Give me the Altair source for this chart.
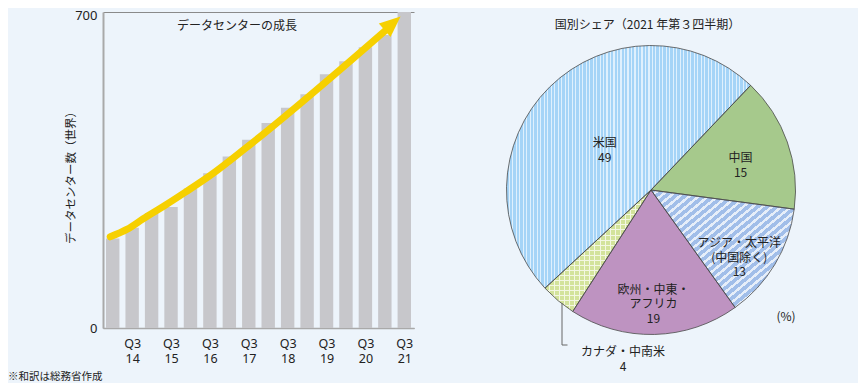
import json
import math
import altair as alt
import pandas as pd

# ---------------- data: number of data centers (world) ----------------
quarters = ["Q1 14", "Q3 14", "Q1 15", "Q3 15", "Q1 16", "Q3 16", "Q1 17", "Q3 17",
            "Q1 18", "Q3 18", "Q1 19", "Q3 19", "Q1 20", "Q3 20", "Q1 21", "Q3 21"]
dc_counts = [198, 222, 255, 268, 309, 343, 380, 417, 454, 488, 518, 562, 591, 622, 649, 700]

# growth arrow (trend): quarter index position, value
arrow_pos = [-0.13, 0.75, 1.57, 2.7, 3.74, 5.02, 6.83, 14.19]
arrow_val = [202, 219, 242, 272, 301, 338, 398, 665]
arrow_tip_pos = [14.4]
arrow_tip_val = [675]

# ---------------- data: share by region (2021 Q3) ----------------
regions = ["中国", "アジア・太平洋(中国除く)", "欧州・中東・アフリカ", "カナダ・中南米", "米国"]
region_labels = ["中国", "アジア・太平洋\n(中国除く)", "欧州・中東・\nアフリカ", "カナダ・中南米", "米国"]
shares = [15, 13, 19, 4, 49]

bar_title = "データセンターの成長"
y_title = "データセンター数（世界）"
pie_title = "国別シェア（2021 年第３四半期）"
unit_label = "(%)"
footnote = "※和訳は総務省作成"

# ---------------- styles ----------------
FONT = "Noto Sans CJK JP"
NUMFONT = "Noto Sans"
BG = "#edf4fb"
TXT = "#222222"
BAR = "#c7c7cb"
YELLOW = "#f6d000"
W, H = 311, 316
CX, CY, R = 548, 178, 144.5
START = math.radians(43.6)

bar_df = pd.DataFrame({"idx": list(range(len(quarters))), "quarter": quarters, "count": dc_counts})
arrow_df = pd.DataFrame({"pos": arrow_pos, "val": arrow_val})
tip_df = pd.DataFrame({"pos": arrow_tip_pos, "val": arrow_tip_val})

t1 = []
acc = 0
for s in shares:
    acc += s
    t1.append(acc)
t0 = [a - s for a, s in zip(t1, shares)]
label_r = {"中国": 95, "アジア・太平洋(中国除く)": 103, "欧州・中東・アフリカ": 100, "カナダ・中南米": 0, "米国": 66}
pie_df = pd.DataFrame({
    "region": regions,
    "label": region_labels,
    "share": shares,
    "t0": t0,
    "t1": t1,
})
pie_df["mid"] = (pie_df["t0"] + pie_df["t1"]) / 2
pie_df["r"] = pie_df["region"].map(label_r)
pie_df["text"] = pie_df["label"] + "\n" + pie_df["share"].astype(str)

xs = alt.Scale(domain=[-0.5, 15.5], nice=False, zero=False)
ys = alt.Scale(domain=[0, 700], nice=False)
ts = alt.Scale(domain=[0, 100], range=[START, START + 2 * math.pi])

label_expr = "split(" + json.dumps(quarters, ensure_ascii=False) + "[datum.value], ' ')"

x_axis = alt.Axis(values=list(range(1, 16, 2)), labelExpr=label_expr, title=None,
                  ticks=False, tickSize=0, grid=False, domainColor="#a9a9a9", domainWidth=1.5,
                  labelFont=NUMFONT, labelFontSize=12.5, labelColor=TXT, labelPadding=9,
                  labelLineHeight=15, labelFlush=False, labelOverlap=False)
y_axis = alt.Axis(values=[0, 700], title=y_title, titleX=-32, titleY=162.5, titleAngle=270,
                  titleAlign="center", titleBaseline="middle", titleFontSize=11.5,
                  titleFontWeight="normal", titleColor=TXT,
                  grid=True, gridColor="#8a8a8a", gridWidth=1, ticks=False, tickSize=0,
                  domainColor="#a9a9a9", domainWidth=2, labelFont=NUMFONT, labelFontSize=13,
                  labelPadding=6, labelColor=TXT,
                  labelOffset={"condition": {"test": "datum.value == 700", "value": 3}, "value": 0})

bars = alt.Chart(bar_df).transform_calculate(
    x0="datum.idx - 0.345", x1="datum.idx + 0.345"
).mark_rect(color=BAR).encode(
    x=alt.X("x0:Q", scale=xs, axis=x_axis),
    x2="x1:Q",
    y=alt.Y("count:Q", scale=ys, axis=y_axis),
    y2=alt.datum(0),
)

arrow = alt.Chart(arrow_df).mark_line(color=YELLOW, strokeWidth=7, strokeCap="round",
                                      interpolate="monotone").encode(
    x=alt.X("pos:Q", scale=xs, axis=x_axis),
    y=alt.Y("val:Q", scale=ys, axis=y_axis),
    order="pos:Q",
)

tip = alt.Chart(tip_df).mark_point(shape="M0,-1L0.85,1L-0.85,1Z", filled=True, size=441,
                                   angle=49, color=YELLOW, opacity=1, strokeWidth=0).encode(
    x=alt.X("pos:Q", scale=xs, axis=x_axis),
    y=alt.Y("val:Q", scale=ys, axis=y_axis),
)


def text_layer(s, x, y, size=12, align="center"):
    return alt.Chart(pd.DataFrame({"t": [s]})).mark_text(
        fontSize=size, color=TXT, align=align, baseline="middle", font=FONT
    ).encode(x=alt.value(x), y=alt.value(y), text="t:N")


def stripe_gradient(ca, cb, n, frac_b, x2, y2):
    stops = []
    for k in range(n):
        a0 = round(k / n, 5)
        b0 = round((k + 1 - frac_b) / n, 5)
        e = round((k + 1) / n, 5)
        stops += [alt.GradientStop(offset=a0, color=ca), alt.GradientStop(offset=b0, color=ca),
                  alt.GradientStop(offset=b0, color=cb), alt.GradientStop(offset=e, color=cb)]
    return alt.LinearGradient(gradient="linear", stops=stops, x1=0, y1=0, x2=x2, y2=y2)


def slice_layer(name, fill):
    return alt.Chart(pie_df).transform_filter(alt.datum.region == name).mark_arc(
        radius=R, fill=fill, strokeWidth=0
    ).encode(
        theta=alt.Theta("t0:Q", scale=ts, stack=False),
        theta2="t1:Q",
        x=alt.value(CX), y=alt.value(CY),
    )


fills = {
    "中国": "#a6c98c",
    "アジア・太平洋(中国除く)": stripe_gradient("#a1bee9", "#e6eef9", 30, 0.4, 1, 1),
    "欧州・中東・アフリカ": "#be93c1",
    "カナダ・中南米": stripe_gradient("#d3e39b", "#f3f7e2", 21, 0.2, 1, 0),
    "米国": stripe_gradient("#a5d4f7", "#dff0fd", 70, 0.33, 1, 0),
}
slices = [slice_layer(n, fills[n]) for n in regions]
canada_h = slice_layer("カナダ・中南米",
                       stripe_gradient("rgba(255,255,255,0)", "rgba(243,247,226,1)", 24, 0.2, 0, 1))

outline = alt.Chart(pie_df).mark_arc(radius=R, fill="white", fillOpacity=0,
                                     stroke="#4a4a4a", strokeWidth=0.8).encode(
    theta=alt.Theta("t0:Q", scale=ts, stack=False),
    theta2="t1:Q",
    x=alt.value(CX), y=alt.value(CY),
)

inside = alt.Chart(pie_df).transform_filter(alt.datum.region != "カナダ・中南米")
labels = inside.mark_text(fontSize=12, lineBreak="\n", lineHeight=14.5, color=TXT,
                          font=FONT).encode(
    theta=alt.Theta("mid:Q", scale=ts, stack=False),
    radius=alt.Radius("r:Q", scale=None),
    x=alt.value(CX), y=alt.value(CY),
    text="text:N",
)

canada = alt.Chart(pie_df).transform_filter(alt.datum.region == "カナダ・中南米")
canada_lab = canada.mark_text(fontSize=12, lineBreak="\n", lineHeight=14.5, color=TXT,
                              font=FONT).encode(x=alt.value(520), y=alt.value(340), text="text:N")
leader_v = canada.mark_rule(color="#666666", strokeWidth=1).encode(
    x=alt.value(459), y=alt.value(291), y2=alt.value(333))
leader_h = canada.mark_rule(color="#666666", strokeWidth=1).encode(
    x=alt.value(459), x2=alt.value(464.5), y=alt.value(333))

chart = alt.layer(
    bars, arrow, tip,
    text_layer(bar_title, 134, 14),
    *slices, canada_h, outline,
    labels, leader_v, leader_h, canada_lab,
    text_layer(pie_title, 544.5, 13),
    text_layer(unit_label, 683, 305),
    text_layer(footnote, -95, 365, size=10.5, align="left"),
).properties(
    width=W, height=H,
    autosize=alt.AutoSizeParams(type="none"),
    padding={"left": 95, "top": 4, "right": 444, "bottom": 55},
    background=BG,
).configure(font=FONT).configure_view(stroke=None)

chart.save("out.html", embed_options={"renderer": "svg", "actions": False})
